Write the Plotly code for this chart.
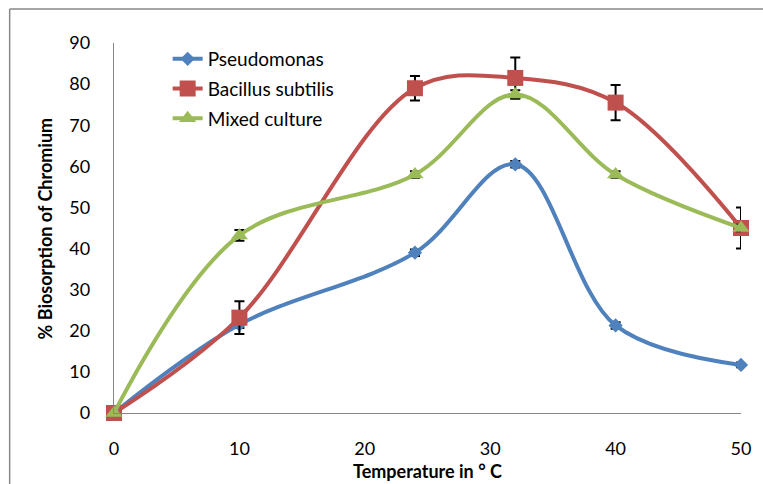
import plotly.graph_objects as go

temperature = [0, 10, 24, 32, 40, 50]
x_ticks = [0, 10, 20, 30, 40, 50]
y_ticks = [0, 10, 20, 30, 40, 50, 60, 70, 80, 90]

pseudomonas = [0, 21.5, 39, 60.5, 21.3, 11.7]
pseudomonas_err = [0, 0.8, 0.8, 0.8, 0.8, 0.6]

bacillus = [0, 23.2, 79, 81.5, 75.5, 45]
bacillus_err = [0, 4.0, 3.0, 5.0, 4.3, 5.0]

mixed = [0, 43.2, 58, 77.5, 58, 45]
mixed_err = [0, 1.3, 0.8, 1.0, 0.8, 0.8]

names = ["Pseudomonas", "Bacillus subtilis", "Mixed culture"]
colors = ["#4F81BD", "#C0504D", "#9BBB59"]
symbols = ["diamond", "square", "triangle-up"]
sizes = [11, 16, 15]

FONT = "Lato"

fig = go.Figure()
for name, vals, errs, col, sym, sz in zip(
    names, [pseudomonas, bacillus, mixed],
    [pseudomonas_err, bacillus_err, mixed_err], colors, symbols, sizes):
    fig.add_trace(go.Scatter(
        x=temperature, y=vals, name=name, mode="lines+markers",
        legendgroup=name,
        line=dict(color=col, width=4, shape="spline", smoothing=1.0),
        marker=dict(symbol=sym, size=sz, color=col),
        error_y=dict(type="data", array=errs, visible=True,
                     color="black", thickness=2, width=5),
        cliponaxis=False,
    ))

W, H = 763, 484
L, R, T, B = 114, 745, 43, 413

def px(xp):
    return (xp - L) / (R - L)

def py(yp):
    return (B - yp) / (B - T)

fig.update_layout(
    width=W, height=H,
    margin=dict(l=L, r=W - R, t=T, b=H - B),
    paper_bgcolor="white", plot_bgcolor="white",
    font=dict(family=FONT, size=18, color="black"),
    showlegend=True,
    legend=dict(x=px(168), y=py(40), xanchor="left", yanchor="top",
                bgcolor="rgba(0,0,0,0)", font=dict(size=19, family=FONT),
                traceorder="grouped", tracegroupgap=2, itemwidth=30),
    xaxis=dict(range=[0, 50], tickvals=x_ticks, showgrid=False, zeroline=False,
               showline=True, linecolor="#868686", linewidth=1.3, ticks="",
               ticklabelstandoff=19, tickfont=dict(size=18, family=FONT)),
    yaxis=dict(range=[0, 90], tickvals=y_ticks, showgrid=False, zeroline=False,
               showline=True, linecolor="#868686", linewidth=1.3, ticks="",
               ticklabelstandoff=19, tickfont=dict(size=18, family=FONT)),
    annotations=[
        dict(text="<b>Temperature in ° C</b>", xref="paper", yref="paper",
             x=px(430), y=py(471), xanchor="center", yanchor="middle",
             showarrow=False, font=dict(size=18, family=FONT)),
        dict(text="<b>% Biosorption of Chromium</b>", xref="paper", yref="paper",
             x=px(45), y=py(228), xanchor="center", yanchor="middle",
             textangle=-90, showarrow=False, font=dict(size=18, family=FONT)),
    ],
    shapes=[
        dict(type="line", xref="paper", yref="paper",
             x0=px(9), x1=px(9), y0=py(9), y1=py(490),
             line=dict(color="#878787", width=1.5)),
        dict(type="line", xref="paper", yref="paper",
             x0=px(9), x1=px(770), y0=py(9), y1=py(9),
             line=dict(color="#878787", width=1.5)),
    ],
)

fig.write_html("out.html")
